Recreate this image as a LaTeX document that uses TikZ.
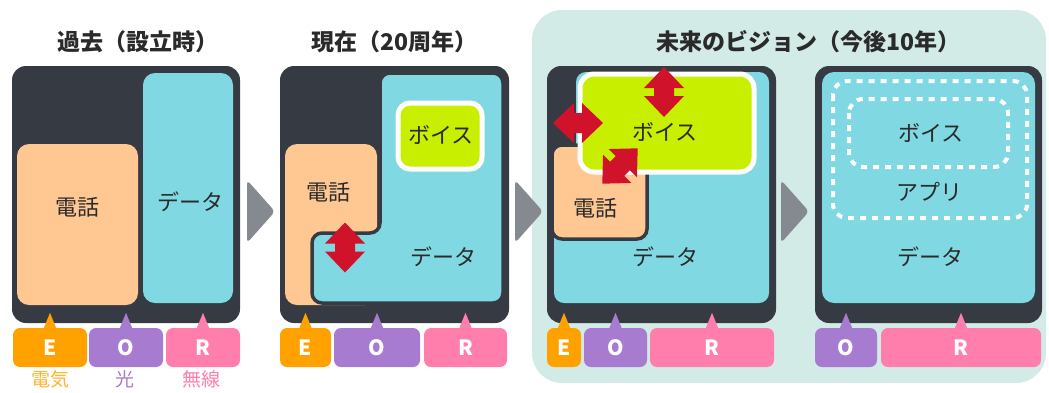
\documentclass[tikz,border=0pt]{standalone}
\usepackage{fontspec}
\setmainfont{Noto Sans CJK JP}
\usetikzlibrary{positioning}

\definecolor{boxdark}{HTML}{363A42}
\definecolor{datacyan}{HTML}{80D8E3}
\definecolor{telpeach}{HTML}{FFC893}
\definecolor{voicelime}{HTML}{C8EE00}
\definecolor{arrowred}{HTML}{D0122B}
\definecolor{chevgray}{HTML}{858A91}
\definecolor{visionbg}{HTML}{D3EBE7}
\definecolor{tabE}{HTML}{FFA200}
\definecolor{tabO}{HTML}{A77BD0}
\definecolor{tabR}{HTML}{FF7EAB}
\definecolor{textdark}{HTML}{2A2A2A}

\newcommand\headfont{\fontsize{23}{26}\selectfont\bfseries}
\newcommand\lblfont{\fontsize{22}{25}\selectfont}
\newcommand\tabfont{\fontsize{21}{24}\selectfont\bfseries}
\newcommand\mediafont{\fontsize{19}{22}\selectfont}

\tikzset{
  panel/.style={fill=boxdark, rounded corners=14},
  heading/.style={font=\headfont, anchor=west, inner sep=0, text=textdark},
  lbl/.style={font=\lblfont, text=textdark, inner sep=0},
  tab/.style={rounded corners=7, minimum height=39, inner sep=0, text=white, font=\tabfont},
  media/.style={font=\mediafont, inner sep=0},
  chevron/.style={fill=chevgray, rounded corners=4},
  dashbox/.style={draw=white, line width=4, dash pattern=on 6 off 6, rounded corners=14},
  dblarrow/.pic={\fill[arrowred] (0,-25) -- (20,-4) -- (10,-4) -- (10,4) -- (20,4) -- (0,25)
     -- (-20,4) -- (-10,4) -- (-10,-4) -- (-20,-4) -- cycle;}
}

\begin{document}
\begin{tikzpicture}[x=1pt,y=-1pt]
\useasboundingbox (0,0) rectangle (1049,392);

% vision background
\fill[visionbg, rounded corners=30] (532,10) rectangle (1046,383);

% titles
\node[heading] (head1) at (57,42) {過去（設立時）};
\node[heading] (head2) at (311,42) {現在（20周年）};
\node[heading] (head3) at (656,42) {未来のビジョン（今後10年）};

% chevrons
\foreach \x in {247,515,781}
  \fill[chevron] (\x,180) -- (\x+28,211.5) -- (\x,243) -- cycle;

% panel 1
\fill[panel] (12,66) rectangle (240,323);
\fill[telpeach, rounded corners=12] (17,144) rectangle (138,305);
\fill[datacyan, rounded corners=12] (143,73) rectangle (233,303);
\node[lbl] (tel1) at (77,207) {電話};
\node[lbl] (data1) at (190,202) {データ};

% panel 2
\fill[panel] (280,66) rectangle (509,323);
\fill[telpeach, rounded corners=12] (285,144) rectangle (377,305);
\draw[boxdark, line width=3.5, fill=datacyan, rounded corners=10]
  (380,73) -- (503,73) -- (503,303) -- (312,303) -- (312,233) -- (380,233) -- cycle;
\draw[white, line width=5, fill=voicelime, rounded corners=12] (398,103) rectangle (482,169);
\node[lbl] (voice2) at (441,135) {ボイス};
\node[lbl] (tel2) at (328,192) {電話};
\node[lbl] (data2) at (443,257) {データ};
\pic at (345,247.5) {dblarrow};

% panel 3
\fill[panel] (547,66) rectangle (776,323);
\fill[datacyan, rounded corners=10]
  (576,72) -- (769,72) -- (769,303) -- (554,303) -- (554,200) -- (576,200) -- cycle;
\draw[boxdark, line width=3.5, fill=telpeach, rounded corners=10] (552,145) rectangle (647,239);
\draw[white, line width=5, fill=voicelime, rounded corners=14] (580,74) rectangle (754,172);
\node[lbl] (voice3) at (665,132) {ボイス};
\node[lbl] (tel3) at (595,208) {電話};
\node[lbl] (data3) at (665,257) {データ};
\pic at (664,92) {dblarrow};
\pic[rotate=90] at (578,123) {dblarrow};
\pic[rotate=-45] at (620,166) {dblarrow};

% panel 4
\fill[panel] (815,66) rectangle (1042,323);
\fill[datacyan, rounded corners=12] (822,72) rectangle (1035,303);
\draw[dashbox] (833,81) rectangle (1027,218);
\draw[dashbox] (849,99) rectangle (1008,167);
\node[lbl] (voice4) at (931,133) {ボイス};
\node[lbl] (app4) at (929,192) {アプリ};
\node[lbl] (data4) at (930,257) {データ};

% E/O/R tabs
\node[tab, fill=tabE, minimum width=74] (e1) at (50,347.5) {E};
\node[tab, fill=tabO, minimum width=74] (o1) at (126,347.5) {O};
\node[tab, fill=tabR, minimum width=74] (r1) at (203,347.5) {R};
\node[tab, fill=tabE, minimum width=51] (e2) at (305.5,347.5) {E};
\node[tab, fill=tabO, minimum width=86] (o2) at (377,347.5) {O};
\node[tab, fill=tabR, minimum width=83] (r2) at (465.5,347.5) {R};
\node[tab, fill=tabE, minimum width=34] (e3) at (564,347.5) {E};
\node[tab, fill=tabO, minimum width=63] (o3) at (615.5,347.5) {O};
\node[tab, fill=tabR, minimum width=124] (r3) at (712,347.5) {R};
\node[tab, fill=tabO, minimum width=62] (o4) at (846,347.5) {O};
\node[tab, fill=tabR, minimum width=160] (r4) at (961,347.5) {R};
\foreach \t/\c in {e1/tabE,o1/tabO,r1/tabR,e2/tabE,o2/tabO,r2/tabR,e3/tabE,o3/tabO,r3/tabR,o4/tabO,r4/tabR}
  \fill[\c] (\t.north) ++(-6.5,1) -- ++(6.5,-16) -- ++(6.5,16) -- cycle;

\node[media, text=tabE!80!white] (elec) at (50,379) {電気};
\node[media, text=tabO] (light) at (125,379) {光};
\node[media, text=tabR] (radio) at (201,379) {無線};

\end{tikzpicture}
\end{document}
